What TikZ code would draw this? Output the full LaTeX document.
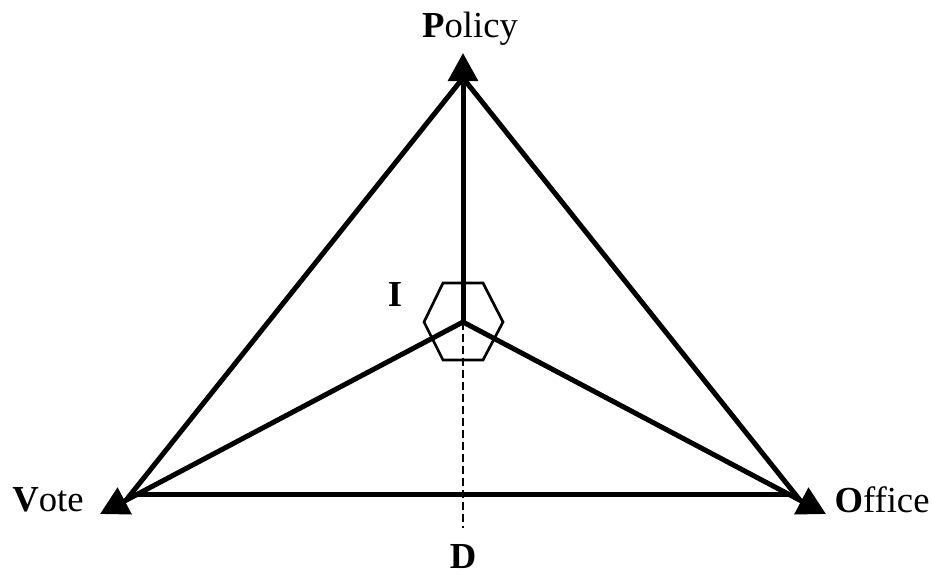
\documentclass[tikz,border=0pt]{standalone}
\usepackage{fontspec}
\setmainfont{Liberation Serif}
\usetikzlibrary{arrows.meta}
\begin{document}
\begin{tikzpicture}[x=0.75pt,y=-0.75pt,
  thickline/.style={line width=3.75pt, line cap=round, line join=round},
  arrowline/.style={thickline, -{Triangle[length=21pt,width=22pt]}},
  hexline/.style={line width=2pt, line join=miter},
  dashline/.style={line width=1pt, dash pattern=on 6pt off 3pt},
  lbl/.style={font=\fontsize{27.5}{30}\selectfont, inner sep=0pt, anchor=base}]
\useasboundingbox (0,0) rectangle (932,575);
% key points
\coordinate (C) at (463,322);
\coordinate (Ptip) at (463,53);
\coordinate (Vtip) at (100,514);
\coordinate (Otip) at (826,514);
\coordinate (Pb) at (463,78);
\coordinate (Vb) at (127,499);
\coordinate (Ob) at (799,499);
\coordinate (Vl) at (132,494);
\coordinate (Ol) at (794,494);
\coordinate (Dend) at (463,528);
% dashed line
\draw[dashline] (C) -- (Dend);
% hexagon
\draw[hexline] (443,283) -- (483,283) -- (503,322) -- (483,360) -- (443,360) -- (424,322) -- cycle;
% triangle edges
\draw[thickline] (Pb) -- (Vb);
\draw[thickline] (Pb) -- (Ob);
\draw[thickline] (Vl) -- (Ol);
% center spokes with arrows
\draw[arrowline] (C) -- (Ptip);
\draw[arrowline] (C) -- (Vtip);
\draw[arrowline] (C) -- (Otip);
% labels
\node[lbl] (policy) at (470,37) {\textbf{P}olicy};
\node[lbl] (vote) at (48,511) {\textbf{V}ote};
\node[lbl] (office) at (882,512) {\textbf{O}ffice};
\node[lbl] (iLabel) at (395,306) {\textbf{I}};
\node[lbl] (dLabel) at (463,568) {\textbf{D}};
\end{tikzpicture}
\end{document}
